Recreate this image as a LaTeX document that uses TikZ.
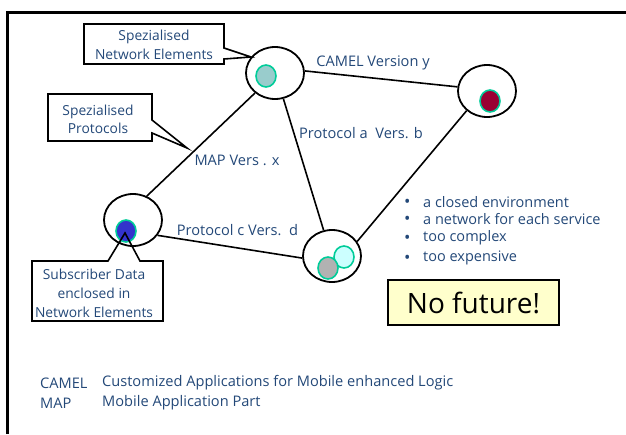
\documentclass[tikz,border=0pt]{standalone}
\usepackage{fontspec}
\setmainfont{Open Sans}
\usetikzlibrary{shapes.geometric}
\definecolor{txt}{RGB}{35,72,120}
\definecolor{rim}{RGB}{0,204,153}
\definecolor{fillA}{RGB}{153,204,204}
\definecolor{fillB}{RGB}{153,0,51}
\definecolor{fillC}{RGB}{51,51,204}
\definecolor{fillD}{RGB}{178,178,178}
\definecolor{fillE}{RGB}{204,255,255}
\definecolor{nofut}{RGB}{255,255,204}
\begin{document}
\begin{tikzpicture}[x=1pt,y=-1pt,
  ne/.style={ellipse, draw, line width=1.8pt, minimum width=58pt, minimum height=52pt, inner sep=0pt},
  dot/.style={ellipse, draw=rim, line width=1.6pt, minimum width=20pt, minimum height=22pt, inner sep=0pt},
  lnk/.style={line width=1.6pt},
  lbl/.style={text=txt, font=\fontsize{14.6}{16}\selectfont, inner sep=0pt},
  callout/.style={draw, line width=1.6pt, line join=miter},
  ctext/.style={text=txt, font=\fontsize{13.8}{19}\selectfont, align=center, inner sep=0pt},
  bul/.style={text=txt, font=\fontsize{14.5}{16}\selectfont, inner sep=0pt, anchor=west},
  leg/.style={text=txt, font=\fontsize{14.6}{16}\selectfont, inner sep=0pt, anchor=west}
]
\useasboundingbox (0,0) rectangle (626,434);
% frame
\draw[line width=3pt] (7,434) -- (7,12) -- (626,12);

% network elements
\node[ne] (A) at (275,73) {};
\node[ne] (B) at (487,91) {};
\node[ne] (C) at (133,220) {};
\node[ne] (D) at (332,256) {};

\node[dot, fill=fillA] (a1) at (266,76) {};
\node[dot, fill=fillB] (b1) at (490,101) {};
\node[dot, fill=fillC] (c1) at (126,231) {};
\node[dot, fill=fillE] (d2) at (344,257) {};
\node[dot, fill=fillD] (d1) at (328,268) {};

% links
\draw[lnk] (A.4) -- (B.172);
\draw[lnk] (A.225) -- (C.60);
\draw[lnk] (A.288) -- (D.108);
\draw[lnk] (B.224) -- (D.30);
\draw[lnk] (C.328) -- (D.184);

% link labels
\node[lbl] (lab1) at (373,63) {CAMEL Version y};
\node[lbl] (lab2) at (361,133) {Protocol a\ \ Vers. b};
\node[lbl] (lab3) at (237,160) {MAP Vers . x};
\node[lbl] (lab4) at (237.5,230) {Protocol c Vers.\ \ d};

% callouts
\draw[callout] (84,24) -- (224,24) -- (224,48) -- (251,57) -- (224,59) -- (224,64) -- (84,64) -- cycle;
\node[ctext] (co1) at (154,45) {Spezialised\\Network Elements};
\draw[callout] (48,94) -- (152,94) -- (152,120) -- (187,148) -- (152,133) -- (152,141) -- (48,141) -- cycle;
\node[ctext, font=\fontsize{13.8}{18}\selectfont] (co2) at (98,119) {Spezialised\\Protocols};
\draw[callout] (32,261) -- (108,261) -- (125,233) -- (140,261) -- (163,261) -- (163,321) -- (32,321) -- cycle;
\node[ctext] (co3) at (94,293) {Subscriber Data\\enclosed in\\Network Elements};

% bullets
\foreach \yy/\tt [count=\i] in {202/a closed environment, 219/a network for each service, 238/too complex, 258/too expensive}{
  \node[bul, font=\fontsize{17}{17}\selectfont] (bd\i) at (404,\yy+1.5) {\textbullet};
  \node[bul] (bt\i) at (423,\yy) {\tt};
}

% no future
\node[draw, line width=1.8pt, fill=nofut, minimum width=171pt, minimum height=45pt, inner sep=0pt,
      font=\fontsize{28}{30}\selectfont] (nf) at (473.5,302.5) {No future!};

% legend
\node[leg] (l1) at (40,383) {CAMEL};
\node[leg] (l2) at (40,403) {MAP};
\node[leg] (l3) at (102,383) {Customized Applications for Mobile enhanced Logic};
\node[leg] (l4) at (102,403) {Mobile Application Part};
\end{tikzpicture}
\end{document}
